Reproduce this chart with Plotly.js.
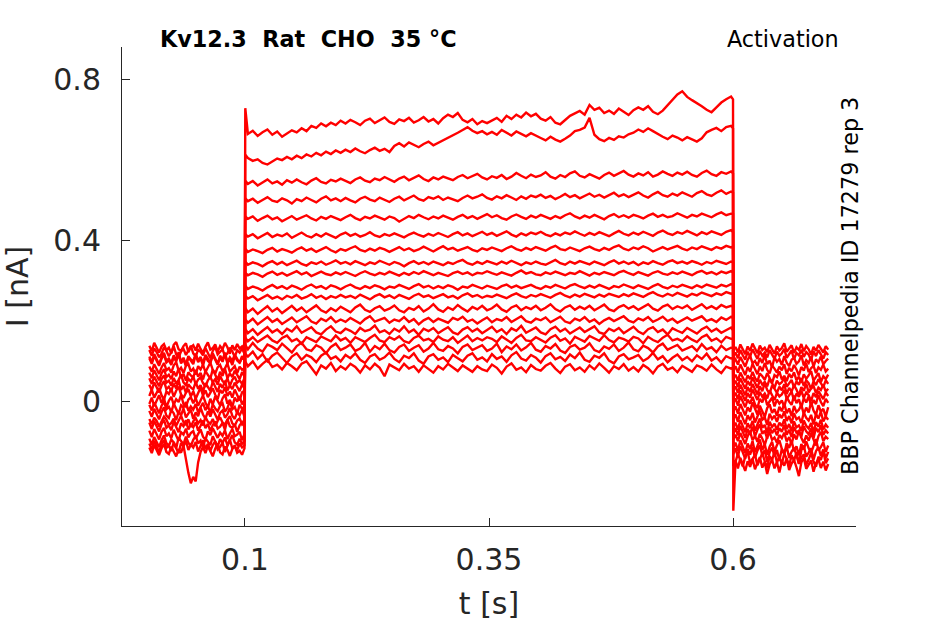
<!DOCTYPE html>
<html>
<head>
<meta charset="utf-8">
<script src="https://cdn.plot.ly/plotly-3.0.1.min.js"></script>
<style>
  html, body { margin: 0; padding: 0; background: #fff; }
  #chart { width: 945px; height: 624px; }
</style>
</head>
<body>
<div id="chart"></div>
<script>
// sample times in ms
const tPre = [2,4.5,7,9.5,12,14.5,17,19.5,22,24.5,27,29.5,32,34.5,37,39.5,42,44.5,47,49.5,
  52,54.5,57,59.5,62,64.5,67,69.5,72,74.5,77,79.5,82,84.5,87,89.5,92,94.5,97,99.5];
const tPulse = [100.3,
  103,108,113,118,123,128,133,138,143,148, 153,158,163,168,173,178,183,188,193,198,
  203,208,213,218,223,228,233,238,243,248, 253,258,263,268,273,278,283,288,293,298,
  303,308,313,318,323,328,333,338,343,348, 353,358,363,368,373,378,383,388,393,398,
  403,408,413,418,423,428,433,438,443,448, 453,458,463,468,473,478,483,488,493,498,
  503,508,513,518,523,528,533,538,543,548, 553,558,563,568,573,578,583,588,593,598,
  600];
const tPost = [600.3,602.5,605,607.5,610,612.5,615,617.5,620,622.5,625,627.5,630,632.5,635,637.5,640,642.5,645,647.5,
  650,652.5,655,657.5,660,662.5,665,667.5,670,672.5,675,677.5,680,682.5,685,687.5,690,692.5,695,697.5];

// currents in pA, one row per sweep (before, during and after the step)
const preCurrent = [
  [-44,-57,-41,-49,-63,-52,-38,-46,-59,-54,-43,-61,-48,-36,-52,-58,-45,-64,-50,-42,-55,-47,-60,-39,-51,-56,-44,-62,-49,-40,-53,-58,-46,-37,-55,-61,-48,-43,-57,-50],
  [127,113,131,122,109,118,134,125,112,121,136,117,108,124,130,115,126,138,119,111,128,123,114,132,120,107,125,135,116,122,129,112,119,133,124,110,127,121,131,118],
  [-93,-108,-89,-101,-114,-97,-85,-104,-111,-95,-102,-117,-90,-99,-107,-88,-103,-112,-96,-86,-105,-98,-115,-92,-101,-109,-87,-100,-113,-94,-104,-90,-110,-97,-84,-102,-108,-93,-106,-99],
  [86,73,92,79,68,84,95,77,82,71,89,97,76,83,70,88,93,74,81,66,87,79,91,72,85,96,78,69,84,90,75,82,94,73,80,87,70,86,78,83],
  [13,29,9,22,33,15,4,24,18,31,11,26,36,17,8,21,30,12,25,6,19,34,14,27,10,23,32,16,5,28,20,35,13,24,9,29,17,2,22,26],
  [-115,-129,-109,-123,-134,-117,-106,-126,-131,-113,-125,-137,-119,-128,-110,-146,-178,-204,-188,-199,-152,-126,-114,-129,-111,-124,-137,-118,-105,-127,-132,-113,-121,-136,-119,-110,-128,-123,-133,-117],
  [138,124,145,131,121,136,142,127,133,119,140,147,129,125,137,144,122,134,139,126,143,130,120,135,146,128,132,141,123,137,129,145,134,118,139,127,142,131,136,124],
  [-24,-39,-19,-33,-45,-27,-15,-36,-42,-22,-30,-47,-26,-35,-18,-40,-31,-21,-44,-28,-37,-16,-33,-43,-25,-38,-20,-34,-46,-29,-23,-41,-32,-17,-36,-44,-27,-35,-21,-39],
  [57,43,61,48,37,55,64,46,51,39,58,44,53,66,47,40,56,49,62,42,54,59,45,36,52,60,47,55,41,63,50,44,57,38,53,61,46,52,43,58],
  [-73,-89,-69,-84,-95,-76,-66,-87,-80,-92,-71,-85,-98,-77,-83,-68,-90,-79,-74,-93,-82,-70,-88,-96,-75,-84,-67,-81,-91,-78,-86,-72,-94,-80,-69,-87,-83,-76,-97,-81],
  [107,93,113,99,88,105,116,96,102,90,110,98,118,94,104,87,108,101,92,115,97,106,89,111,100,95,114,103,91,109,98,117,94,105,90,112,101,96,108,103],
  [-7,9,-12,3,15,-4,7,-15,1,11,-9,5,-2,16,-7,-13,4,10,-5,8,-11,2,14,-3,-16,6,-8,12,0,-10,7,17,-6,3,-14,9,-1,13,-8,4],
  [-53,-69,-49,-63,-75,-57,-46,-66,-60,-72,-51,-64,-77,-55,-62,-47,-70,-58,-65,-52,-73,-61,-48,-67,-56,-74,-59,-50,-68,-63,-54,-71,-45,-62,-66,-57,-76,-60,-52,-64],
  [71,57,77,63,52,69,80,60,66,55,74,62,82,58,68,51,72,64,59,78,61,70,54,75,65,56,79,67,53,73,63,81,57,69,60,76,66,55,72,62],
  [-105,-119,-99,-113,-127,-107,-96,-116,-110,-124,-102,-117,-129,-104,-112,-98,-121,-108,-115,-101,-125,-111,-97,-118,-106,-123,-109,-100,-120,-114,-103,-126,-108,-95,-117,-112,-122,-105,-115,-110],
  [41,27,47,33,22,39,50,30,36,25,44,32,52,28,38,21,42,34,29,48,31,40,24,45,35,26,49,37,23,43,33,51,27,39,30,46,36,25,42,32],
  [-9,-23,-3,-17,-30,-11,-1,-20,-14,-27,-6,-19,-32,-10,-16,-2,-24,-13,-21,-7,-28,-15,-4,-22,-12,-29,-8,-18,-25,-11,-5,-26,-17,0,-20,-14,-31,-9,-19,-13],
  [111,97,117,103,92,109,120,100,106,95,114,102,122,98,108,91,112,104,99,118,101,110,94,115,105,96,119,107,93,113,103,121,97,109,100,116,106,95,112,102]
];

const pulseCurrent = [
  [728, 664,672,659,668,675,662,670,657,666,673, 668,678,671,684,679,690,683,692,686,697, 690,699,693,686,697,702,691,698,705,694, 689,700,696,704,692,698,706,695,701,690, 703,712,706,716,699,693,701,688,696,691, 698,704,694,709,701,712,705,717,708,714, 702,697,706,692,688,699,709,715,721,712, 736,724,729,716,722,714,727,719,711,723, 730,724,733,719,713,722,736,748,762,770, 756,748,741,733,724,718,730,742,750,757, 750],
  [612, 604,597,601,592,588,596,603,599,607,601, 610,604,613,608,617,611,620,614,623,617, 625,619,628,621,616,624,630,622,627,619, 634,641,633,643,637,631,639,645,636,642, 648,654,659,667,674,681,672,666,671,663, 669,662,674,667,660,670,664,658,666,661, 654,648,657,650,645,652,660,671,674,680, 704,662,651,646,654,649,658,655,663,667, 675,669,678,671,663,657,651,660,655,648, 656,650,645,653,668,674,679,671,681,684, 678],
  [548, 540,547,536,544,551,541,546,538,549,543, 551,544,539,548,554,545,541,550,546,553, 547,542,551,556,548,544,553,549,557,550, 545,553,558,549,555,561,552,547,556,551, 558,553,549,557,562,554,559,565,556,551, 559,555,562,552,558,567,560,554,563,557, 561,569,558,553,562,557,566,571,560,556, 564,559,553,562,568,560,565,572,563,558, 566,561,569,558,563,571,565,560,568,563, 570,562,558,567,573,564,560,569,565,571, 566],
  [504, 497,503,493,500,507,498,495,504,499,491, 502,497,506,500,494,503,509,499,504,497, 505,499,494,503,508,501,497,506,500,495, 503,508,499,505,511,502,498,507,503,509, 500,506,502,497,505,511,504,508,514,505, 501,509,504,512,506,500,509,503,511,507, 513,505,510,502,508,515,507,512,504,510, 516,508,513,506,511,518,509,514,507,512, 519,511,506,514,520,512,508,516,511,519, 513,508,517,522,514,510,518,524,515,521, 518],
  [459, 453,459,448,455,461,452,457,447,454,460, 451,456,462,454,449,458,453,460,455,450, 457,463,455,450,458,454,461,456,451,459, 455,446,452,460,455,463,457,452,459,454, 461,456,451,458,463,455,460,453,458,465, 457,462,455,451,459,464,458,453,461,456, 463,458,453,460,455,462,467,459,454,461, 456,463,458,452,460,465,457,462,456,463, 459,454,461,466,458,463,457,460,467,461, 456,463,459,466,461,457,464,469,462,466, 465],
  [415, 409,415,405,412,418,408,414,410,417,406, 413,419,411,407,415,409,417,412,406,414, 419,411,416,409,413,420,412,408,415,411, 417,412,407,414,419,413,409,416,411,418, 413,408,415,420,412,417,410,415,421,413, 418,411,416,422,414,409,417,412,419,415, 421,414,410,417,412,419,415,422,416,411, 418,413,420,415,410,417,423,416,412,419, 414,421,416,411,419,424,417,413,420,416, 423,417,412,420,415,422,418,413,421,425, 420],
  [379, 371,377,373,368,376,381,372,378,374,369, 377,382,374,379,371,376,383,375,370,378, 374,380,385,376,372,379,374,381,377,371, 378,383,375,380,373,377,384,378,372,379, 385,377,381,374,379,383,376,372,380,376, 382,377,373,380,385,378,374,381,376,383, 379,374,381,386,378,375,382,377,373,380, 384,378,374,381,376,383,387,379,375,382, 378,385,380,372,378,383,377,381,386,379, 375,382,378,385,380,376,383,379,386,382, 384],
  [347, 339,345,341,335,343,348,340,346,338,344, 349,341,337,345,341,347,339,344,350,342, 346,340,348,343,338,345,341,349,344,339, 346,342,335,343,348,341,346,340,347,343, 338,345,341,347,351,343,339,346,341,348, 344,340,347,342,349,344,338,345,341,347, 342,339,346,351,343,339,347,342,348,344, 340,347,343,338,345,350,342,347,341,346, 338,345,341,348,343,339,346,350,343,347, 342,348,344,339,346,342,349,345,341,347, 345],
  [319, 313,319,315,309,317,322,314,319,312,318, 323,315,320,311,317,322,316,313,320,315, 321,316,311,318,323,317,313,319,315,322, 317,312,319,314,321,316,323,318,313,319, 315,311,318,322,316,320,313,319,317,323, 318,314,320,316,312,319,325,317,321,315, 313,320,316,322,318,313,319,316,323,317, 312,319,315,321,317,313,320,324,318,314, 321,316,312,319,323,317,314,320,316,322, 318,313,320,324,317,321,315,322,318,323, 320],
  [287, 279,285,281,275,283,289,281,286,279,287, 283,277,285,290,282,286,279,288,284,278, 285,290,283,279,286,281,288,284,278,285, 282,289,284,279,286,291,283,287,280,286, 281,288,284,277,285,282,289,284,280,287, 283,279,286,290,282,287,281,285,289,283, 279,286,282,289,284,280,287,291,285,281, 287,282,289,284,279,286,283,290,285,281, 288,283,279,286,291,284,280,287,283,289, 285,281,288,283,290,286,282,289,285,291, 288],
  [262, 255,261,251,257,264,255,260,253,262,257, 264,255,259,266,257,262,254,261,257,264, 258,262,256,265,259,253,261,266,258,263, 256,264,259,254,262,267,259,263,256,261, 266,258,262,255,263,268,260,264,257,262, 259,265,261,256,263,268,261,257,264,260, 266,261,257,264,269,262,258,265,260,267, 262,258,265,260,267,263,259,266,261,268, 263,259,266,271,264,260,267,262,269,264, 260,267,263,270,265,261,268,264,271,267, 268],
  [232, 221,230,217,227,236,223,231,219,229,237, 225,233,221,229,238,226,220,231,224,235, 228,221,233,240,227,222,231,236,225,230, 238,226,221,232,227,236,223,230,241,228, 222,233,227,239,230,223,234,228,237,226, 231,240,228,222,233,238,226,234,229,237, 226,232,241,229,223,233,238,227,235,229, 237,226,233,240,228,224,234,239,230,236, 227,233,241,230,225,235,240,229,236,231, 238,227,234,241,230,236,229,239,233,237, 234],
  [204, 195,205,191,201,209,197,204,192,201,208, 196,203,211,198,193,205,199,209,196,203, 197,207,200,193,204,211,198,202,207,195, 203,199,209,197,204,191,201,207,197,205, 199,195,207,202,210,198,203,193,201,208, 196,204,200,209,197,203,211,199,195,205, 201,208,196,203,210,198,194,205,200,209, 197,203,192,201,207,199,205,211,200,196, 206,201,209,197,203,210,199,205,195,202, 208,200,205,211,199,204,197,208,202,210, 206],
  [180, 169,179,165,175,184,171,178,167,180,173, 186,170,177,184,171,166,178,186,173,169, 180,175,167,182,174,178,188,171,176,167, 180,173,186,171,178,165,180,174,182,169, 177,184,171,166,178,184,173,180,169,177, 185,172,179,167,181,175,187,170,177,183, 171,166,179,185,173,180,168,176,183,172, 178,186,171,167,180,174,182,169,177,185, 173,167,179,184,172,178,166,181,175,170, 182,176,168,179,185,173,180,170,177,183, 176],
  [158, 149,159,147,155,163,151,145,157,163,149, 155,143,159,153,147,161,155,149,163,151, 157,145,159,153,147,157,165,151,147,159, 153,161,149,145,157,163,151,155,147,161, 153,149,159,145,155,163,149,157,151,159, 155,147,161,153,145,157,165,151,149,159, 152,146,158,164,150,156,143,160,154,148, 162,156,150,164,152,146,158,154,148,160, 156,144,160,152,147,158,165,151,155,149, 161,153,147,159,165,150,156,146,160,155, 156],
  [140, 129,145,131,123,141,135,127,143,133,121, 137,145,129,125,139,133,119,135,143,127, 133,141,125,131,145,123,137,129,143,127, 121,135,141,125,133,139,123,131,145,129, 125,137,131,119,135,141,127,133,139,125, 131,143,122,136,129,141,126,134,145,128, 123,137,131,142,126,120,135,140,128,133, 144,127,122,136,130,141,125,133,146,129, 124,138,132,121,136,143,128,134,140,126, 131,137,125,142,129,134,122,138,127,133, 132],
  [118, 111,123,105,117,99,113,121,107,95,111, 119,103,115,109,97,113,121,105,111,99, 115,107,119,103,95,111,117,103,109,121, 105,97,113,107,119,101,93,111,117,103, 109,97,115,107,99,113,119,103,109,99, 117,105,111,98,114,122,106,101,115,108, 96,112,119,104,110,100,116,107,121,103, 98,113,108,119,101,94,111,117,104,109, 115,100,107,120,104,112,97,108,116,102, 110,99,114,105,118,101,109,96,112,106, 108],
  [98, 87,99,81,93,103,85,91,79,95,87, 77,93,99,83,67,89,81,95,75,87, 79,93,85,71,89,79,93,83,62,91, 85,77,93,81,87,73,89,81,71,87, 79,93,83,75,89,81,73,87,79,75, 91,83,69,86,94,78,84,72,90,80, 76,88,95,81,70,86,92,77,84,73, 89,79,94,83,71,87,80,92,76,85, 74,90,82,69,86,93,78,84,72,88, 80,73,89,84,76,91,79,70,86,81, 84]
];

const postCurrent = [
  [97,104,91,110,97,86,103,113,94,100,88,107,95,115,92,101,84,109,98,105,90,112,96,87,103,108,93,99,114,89,102,95,110,86,104,97,111,92,100,106],
  [-272,-151,-131,-145,-162,-137,-126,-153,-141,-133,-159,-144,-129,-149,-165,-136,-147,-125,-152,-139,-156,-130,-143,-161,-134,-148,-127,-155,-140,-132,-158,-145,-128,-150,-163,-138,-146,-124,-154,-142],
  [57,66,51,71,59,47,64,55,73,58,49,69,62,53,70,57,45,65,60,74,54,63,50,68,58,72,52,61,46,67,56,64,75,51,59,70,48,62,55,66],
  [-95,-83,-99,-79,-94,-106,-87,-75,-97,-86,-101,-81,-93,-109,-88,-77,-96,-90,-103,-84,-92,-78,-100,-89,-107,-82,-95,-73,-91,-104,-85,-98,-80,-93,-110,-87,-76,-99,-88,-94],
  [127,135,121,141,128,117,136,125,143,130,119,138,127,133,122,140,129,118,136,126,132,144,123,131,139,120,134,127,142,124,137,129,116,135,125,140,130,121,137,128],
  [-23,-13,-31,-7,-22,-35,-15,-26,-3,-19,-33,-11,-24,-39,-17,-8,-29,-20,-36,-14,-25,-5,-30,-18,-37,-12,-27,-21,-9,-32,-16,-28,-2,-23,-34,-10,-26,-19,-38,-15],
  [-115,-103,-123,-97,-114,-129,-105,-119,-99,-127,-111,-95,-121,-107,-133,-113,-101,-125,-109,-97,-118,-131,-104,-116,-98,-124,-112,-135,-106,-120,-100,-117,-128,-108,-94,-122,-114,-102,-126,-110],
  [27,37,21,41,28,15,35,23,43,30,17,37,25,45,28,19,39,31,21,36,27,42,18,33,24,40,29,14,35,26,44,22,32,38,20,34,28,41,24,31],
  [-63,-53,-71,-47,-62,-77,-55,-67,-49,-73,-58,-43,-66,-59,-79,-51,-64,-56,-71,-53,-62,-45,-69,-57,-75,-50,-65,-60,-74,-48,-61,-68,-54,-78,-52,-63,-46,-70,-58,-66],
  [111,121,107,127,114,103,123,111,129,116,105,125,113,121,109,127,117,105,123,113,119,130,108,118,126,104,120,114,128,110,122,116,102,124,112,127,118,106,122,115],
  [-161,-147,-167,-141,-159,-173,-149,-163,-143,-169,-153,-139,-165,-151,-181,-157,-145,-167,-151,-177,-149,-160,-142,-171,-155,-146,-164,-186,-152,-140,-168,-158,-147,-175,-154,-144,-166,-150,-172,-156],
  [-4,7,-11,13,-2,-15,4,-6,11,-8,-17,6,-3,15,-10,1,9,-13,4,-6,2,-14,10,-1,-9,14,-5,5,-16,8,-3,12,-11,3,-7,16,-2,-12,6,-4],
  [76,87,71,91,78,65,85,73,93,80,67,87,75,95,78,69,89,81,71,86,77,92,68,83,74,90,79,64,85,76,94,72,82,88,70,84,78,91,74,81],
  [-44,-33,-51,-27,-42,-57,-35,-47,-29,-53,-38,-23,-46,-40,-59,-31,-44,-36,-51,-33,-42,-25,-49,-37,-55,-30,-45,-40,-54,-28,-41,-48,-34,-58,-32,-43,-26,-50,-38,-46],
  [42,51,35,57,44,31,50,39,59,46,33,53,41,48,37,56,45,33,51,42,47,58,36,44,53,34,49,41,57,38,52,45,30,50,40,55,46,35,52,43],
  [-131,-117,-137,-111,-129,-143,-119,-133,-113,-141,-123,-109,-135,-121,-151,-127,-115,-137,-121,-147,-119,-130,-112,-141,-125,-116,-134,-156,-122,-110,-138,-128,-117,-145,-124,-114,-136,-120,-142,-126],
  [12,21,5,27,14,1,20,9,29,16,3,23,11,19,7,27,16,3,21,12,17,28,6,14,24,2,19,11,26,8,22,15,0,20,10,25,16,5,22,13],
  [-80,-67,-85,-61,-77,-91,-69,-81,-63,-87,-71,-57,-81,-73,-93,-65,-79,-69,-85,-67,-76,-59,-83,-71,-89,-64,-78,-73,-88,-62,-75,-82,-68,-92,-66,-77,-60,-84,-72,-80]
];

const xTicks = [0.1, 0.35, 0.6];
const xTickText = ['0.1', '0.35', '0.6'];
const yTicks = [0, 0.4, 0.8];
const yTickText = ['0', '0.4', '0.8'];

const tSec = tPre.concat(tPulse, tPost).map(v => v / 1000);

const traces = pulseCurrent.map((pulse, i) => ({
  x: tSec,
  y: preCurrent[i].concat(pulse, postCurrent[i]).map(v => v / 1000),
  type: 'scatter',
  mode: 'lines',
  line: { color: '#ff0000', width: 2.4 },
  hoverinfo: 'skip'
}));

const axisColor = '#262626';
const layout = {
  width: 945,
  height: 624,
  margin: { l: 122, r: 89, t: 47, b: 98 },
  paper_bgcolor: '#ffffff',
  plot_bgcolor: '#ffffff',
  showlegend: false,
  font: { family: 'DejaVu Sans', color: axisColor },
  xaxis: {
    range: [-0.026, 0.726],
    tickvals: xTicks,
    ticktext: xTickText,
    ticks: 'inside',
    ticklen: 8,
    tickcolor: axisColor,
    showline: true,
    linecolor: axisColor,
    linewidth: 1,
    showgrid: false,
    zeroline: false,
    ticklabelstandoff: 7,
    tickfont: { size: 30, color: axisColor },
    title: { text: 't [s]', font: { size: 30, color: axisColor }, standoff: 16 }
  },
  yaxis: {
    range: [-0.31, 0.88],
    tickvals: yTicks,
    ticktext: yTickText,
    ticks: 'inside',
    ticklen: 8,
    tickcolor: axisColor,
    showline: true,
    linecolor: axisColor,
    linewidth: 1,
    showgrid: false,
    zeroline: false,
    ticklabelstandoff: 14,
    tickfont: { size: 30, color: axisColor },
    title: { text: 'I [nA]', font: { size: 30, color: axisColor }, standoff: 20 }
  },
  annotations: [
    {
      xref: 'paper', yref: 'paper', x: 0.049, y: 1.0167,
      xanchor: 'left', yanchor: 'middle', showarrow: false,
      text: '<b>Kv12.3\u00a0\u00a0Rat\u00a0\u00a0CHO\u00a0\u00a035\u00a0°C</b>',
      font: { size: 22.3, color: '#000000' }
    },
    {
      xref: 'paper', yref: 'paper', x: 0.9796, y: 1.0167,
      xanchor: 'right', yanchor: 'middle', showarrow: false,
      text: 'Activation',
      font: { size: 22.3, color: '#000000' }
    },
    {
      xref: 'paper', yref: 'paper', x: 0.9918, y: 0.501,
      xanchor: 'center', yanchor: 'middle', showarrow: false,
      textangle: -90,
      text: 'BBP Channelpedia ID 17279 rep 3',
      font: { size: 22.3, color: '#000000' }
    }
  ]
};

Plotly.newPlot('chart', traces, layout, { staticPlot: true });
</script>
</body>
</html>
